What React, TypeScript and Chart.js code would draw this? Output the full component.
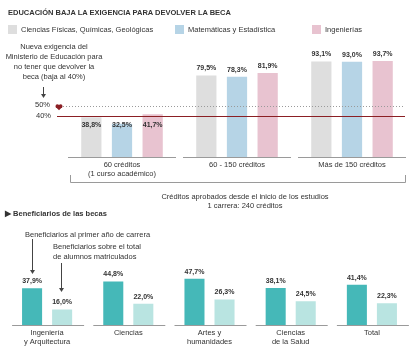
import React, { useEffect, useRef } from "react";
import { Chart, registerables } from "chart.js";
Chart.register(...registerables);

// ---------- DATA ----------
const creditCategories = [["60 créditos", "(1 curso académico)"], ["60 - 150 créditos"], ["Más de 150 créditos"]];
const seriesNames = ["Ciencias Físicas, Químicas, Geológicas", "Matemáticas y Estadística", "Ingenierías"];
const fisicasValues = [38.8, 79.5, 93.1];
const matematicasValues = [32.5, 78.3, 93.0];
const ingenieriasValues = [41.7, 81.9, 93.7];
const thresholdNew = 40;
const thresholdOld = 50;

const becaCategories = [["Ingeniería", "y Arquitectura"], ["Ciencias"], ["Artes y", "humanidades"], ["Ciencias", "de la Salud"], ["Total"]];
const becaSeriesNames = ["Beneficiarios al primer año de carrera", "Beneficiarios sobre el total de alumnos matriculados"];
const primerAnoValues = [37.9, 44.8, 47.7, 38.1, 41.4];
const totalAlumnosValues = [16.0, 22.0, 26.3, 24.5, 22.3];

// ---------- STYLE ----------
const FONT = '"Liberation Sans", Arial, sans-serif';
const topColors = ["#dedede", "#b6d4e6", "#e8c3d0"];
const bottomColors = ["#45b8b8", "#b9e4e1"];
const W = 414;
const H = 351;
const FS = 7.5;

const fmt = (v: number) => v.toFixed(1).replace(".", ",") + "%";

const topPlugin = {
  id: "topDecor",
  afterDatasetsDraw(chart: any) {
    const ctx = chart.ctx;
    const x = chart.scales.x;
    const y = chart.scales.y;
    const area = chart.chartArea;
    const y50 = y.getPixelForValue(thresholdOld);
    const y40 = y.getPixelForValue(thresholdNew);
    ctx.save();
    // 50% dotted line
    ctx.strokeStyle = "#9a9a9a";
    ctx.lineWidth = 1;
    ctx.setLineDash([1, 2]);
    ctx.beginPath();
    ctx.moveTo(60, Math.round(y50) + 0.5);
    ctx.lineTo(405, Math.round(y50) + 0.5);
    ctx.stroke();
    ctx.setLineDash([]);
    // 40% solid line
    ctx.strokeStyle = "#8b1f24";
    ctx.beginPath();
    ctx.moveTo(57, Math.round(y40) + 0.5);
    ctx.lineTo(405, Math.round(y40) + 0.5);
    ctx.stroke();
    // marker
    ctx.fillStyle = "#8b1f24";
    const mx = 59, my = y50 + 1;
    ctx.beginPath();
    ctx.arc(mx - 1.6, my - 0.5, 1.9, 0, Math.PI * 2);
    ctx.arc(mx + 1.6, my - 0.5, 1.9, 0, Math.PI * 2);
    ctx.fill();
    ctx.beginPath();
    ctx.moveTo(mx - 3.4, my);
    ctx.lineTo(mx + 3.4, my);
    ctx.lineTo(mx, my + 3.5);
    ctx.closePath();
    ctx.fill();
    // threshold labels
    ctx.fillStyle = "#333";
    ctx.font = `${FS}px ${FONT}`;
    ctx.textAlign = "right";
    ctx.textBaseline = "middle";
    ctx.fillText(`${thresholdOld}%`, 50, y50 - 1);
    ctx.fillText(`${thresholdNew}%`, 51, y40);
    // value labels
    ctx.font = `bold 7px ${FONT}`;
    ctx.textAlign = "center";
    chart.data.datasets.forEach((ds: any, di: number) => {
      const meta = chart.getDatasetMeta(di);
      meta.data.forEach((bar: any, i: number) => {
        const v = ds.data[i];
        let cy = bar.y - 7;
        if (v < thresholdOld - 5) cy = Math.max(cy, y40 + 9);
        ctx.fillText(fmt(v), bar.x, cy);
      });
    });
    // category baselines and labels
    ctx.strokeStyle = "#9a9a9a";
    ctx.font = `${FS}px ${FONT}`;
    ctx.fillStyle = "#333";
    creditCategories.forEach((lines, i) => {
      const cx = x.getPixelForValue(i);
      ctx.beginPath();
      ctx.moveTo(cx - 54, area.bottom + 0.5);
      ctx.lineTo(cx + 54, area.bottom + 0.5);
      ctx.stroke();
      lines.forEach((l, k) => ctx.fillText(l, cx, area.bottom + 8 + k * 8.5));
    });
    // bracket
    ctx.beginPath();
    ctx.moveTo(70.5, 175);
    ctx.lineTo(70.5, 182.5);
    ctx.lineTo(405.5, 182.5);
    ctx.lineTo(405.5, 175);
    ctx.stroke();
    ctx.restore();
  },
};

const bottomPlugin = {
  id: "bottomDecor",
  afterDatasetsDraw(chart: any) {
    const ctx = chart.ctx;
    const x = chart.scales.x;
    const area = chart.chartArea;
    ctx.save();
    ctx.fillStyle = "#333";
    ctx.font = `bold 7px ${FONT}`;
    ctx.textAlign = "center";
    ctx.textBaseline = "middle";
    chart.data.datasets.forEach((ds: any, di: number) => {
      const meta = chart.getDatasetMeta(di);
      meta.data.forEach((bar: any, i: number) => {
        ctx.fillText(fmt(ds.data[i]), bar.x, bar.y - 7);
      });
    });
    ctx.strokeStyle = "#9a9a9a";
    ctx.lineWidth = 1;
    ctx.font = `${FS}px ${FONT}`;
    becaCategories.forEach((lines, i) => {
      const cx = x.getPixelForValue(i);
      ctx.beginPath();
      ctx.moveTo(cx - 35, area.bottom + 0.5);
      ctx.lineTo(cx + 37, area.bottom + 0.5);
      ctx.stroke();
      lines.forEach((l, k) => ctx.fillText(l, cx, area.bottom + 8 + k * 8.5));
    });
    // arrows
    const arrow = (ax: number, y1: number, y2: number) => {
      ctx.strokeStyle = "#444";
      ctx.beginPath();
      ctx.moveTo(ax + 0.5, y1);
      ctx.lineTo(ax + 0.5, y2);
      ctx.stroke();
      ctx.fillStyle = "#444";
      ctx.beginPath();
      ctx.moveTo(ax - 2, y2 - 3);
      ctx.lineTo(ax + 3, y2 - 3);
      ctx.lineTo(ax + 0.5, y2 + 1);
      ctx.closePath();
      ctx.fill();
    };
    arrow(32, 239, 273);
    arrow(61, 263, 291);
    arrow(43, 87, 97);
    ctx.restore();
  },
};

function Txt(props: { x: number; y: number; children: any; bold?: boolean; align?: "left" | "center"; size?: number }) {
  const size = props.size || FS;
  const style: any = {
    position: "absolute",
    top: props.y - 5,
    lineHeight: "10px",
    fontSize: size,
    fontFamily: FONT,
    fontWeight: props.bold ? "bold" : "normal",
    color: "#333",
    whiteSpace: "nowrap",
  };
  if (props.align === "center") {
    style.left = props.x - 100;
    style.width = 200;
    style.textAlign = "center";
  } else {
    style.left = props.x;
  }
  return <div style={style}>{props.children}</div>;
}

export default function App() {
  const topRef = useRef<HTMLCanvasElement>(null);
  const botRef = useRef<HTMLCanvasElement>(null);

  useEffect(() => {
    const top = new Chart(topRef.current!, {
      type: "bar",
      data: {
        labels: creditCategories.map((l) => l.join(" ")),
        datasets: [
          { label: seriesNames[0], data: fisicasValues, backgroundColor: topColors[0] },
          { label: seriesNames[1], data: matematicasValues, backgroundColor: topColors[1] },
          { label: seriesNames[2], data: ingenieriasValues, backgroundColor: topColors[2] },
        ],
      },
      options: {
        animation: false,
        responsive: false,
        maintainAspectRatio: false,
        events: [],
        layout: { padding: { left: 64.5, right: 4.5, top: 59.6, bottom: H - 157 } },
        plugins: { legend: { display: false }, tooltip: { enabled: false } },
        scales: { x: { display: false }, y: { display: false, min: 0, max: 95 } },
        datasets: { bar: { categoryPercentage: 0.8, barPercentage: 0.66 } },
      } as any,
      plugins: [topPlugin],
    });
    const bot = new Chart(botRef.current!, {
      type: "bar",
      data: {
        labels: becaCategories.map((l) => l.join(" ")),
        datasets: [
          { label: becaSeriesNames[0], data: primerAnoValues, backgroundColor: bottomColors[0] },
          { label: becaSeriesNames[1], data: totalAlumnosValues, backgroundColor: bottomColors[1] },
        ],
      },
      options: {
        animation: false,
        responsive: false,
        maintainAspectRatio: false,
        events: [],
        layout: { padding: { left: 6.5, right: 1.5, top: 276.5, bottom: H - 325 } },
        plugins: { legend: { display: false }, tooltip: { enabled: false } },
        scales: { x: { display: false }, y: { display: false, min: 0, max: 50 } },
        datasets: { bar: { categoryPercentage: 0.74, barPercentage: 0.667 } },
      } as any,
      plugins: [bottomPlugin],
    });
    return () => {
      top.destroy();
      bot.destroy();
    };
  }, []);

  const legendX = [8, 175, 312];

  return (
    <div style={{ position: "fixed", left: 0, top: 0, width: W, height: H, background: "#fff", overflow: "hidden" }}>
      <canvas ref={topRef} width={W} height={H} style={{ position: "absolute", left: 0, top: 0, width: W, height: H }} />
      <canvas ref={botRef} width={W} height={H} style={{ position: "absolute", left: 0, top: 0, width: W, height: H }} />
      <Txt x={8} y={13} bold size={7.5}>EDUCACIÓN BAJA LA EXIGENCIA PARA DEVOLVER LA BECA</Txt>
      {seriesNames.map((n, i) => (
        <React.Fragment key={n}>
          <div style={{ position: "absolute", left: legendX[i], top: 25, width: 9, height: 9, background: topColors[i] }} />
          <Txt x={legendX[i] + 13} y={29.5}>{n}</Txt>
        </React.Fragment>
      ))}
      <Txt x={54} y={47} align="center">Nueva exigencia del</Txt>
      <Txt x={54} y={57} align="center">Ministerio de Educación para</Txt>
      <Txt x={54} y={67} align="center">no tener que devolver la</Txt>
      <Txt x={54} y={77} align="center">beca (baja al 40%)</Txt>
      <Txt x={245} y={197} align="center">Créditos aprobados desde el inicio de los estudios</Txt>
      <Txt x={245} y={206} align="center">1 carrera: 240 créditos</Txt>
      <Txt x={5} y={214} bold>▶ Beneficiarios de las becas</Txt>
      <Txt x={25} y={235}>{becaSeriesNames[0]}</Txt>
      <Txt x={53} y={247}>Beneficiarios sobre el total</Txt>
      <Txt x={53} y={257}>de alumnos matriculados</Txt>
    </div>
  );
}
